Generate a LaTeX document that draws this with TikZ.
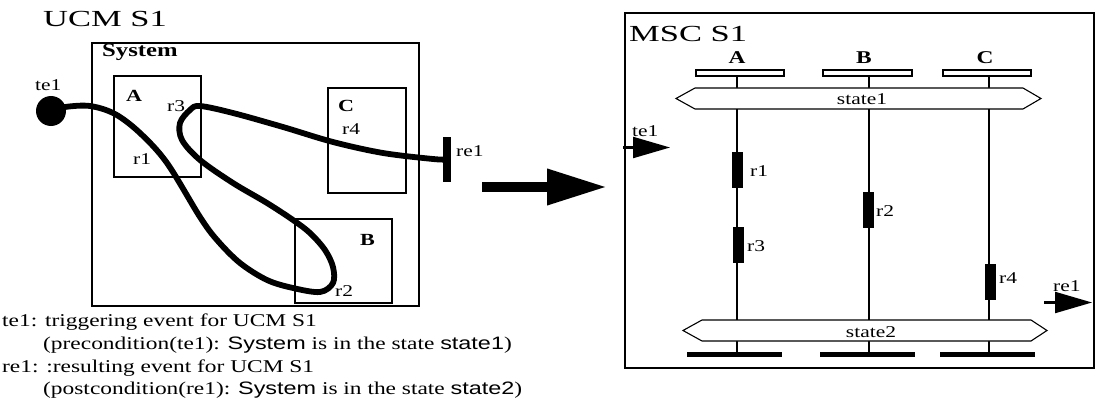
\documentclass[tikz,border=0pt]{standalone}
\usepackage{graphicx}
\usepackage{fontspec}
\setmainfont{Liberation Serif}
\newfontfamily\hv{Liberation Sans}
\usetikzlibrary{arrows.meta}
% the lettering in this drawing is set wide
\newcommand{\widetxt}[1]{\scalebox{1.3}[1]{#1}}
\newcommand{\headtxt}[1]{\scalebox{1.5}[1]{\fontsize{23}{25}\selectfont #1}}

\begin{document}
\begin{tikzpicture}[x=1pt,y=-1pt,
  frame/.style={draw, line width=2.2, inner sep=0},
  headbox/.style={draw, line width=1.6, inner sep=0, minimum height=6},
  action/.style={fill=black, inner sep=0, minimum width=10.5, minimum height=36},
  endbar/.style={fill=black, inner sep=0, minimum height=5.5, minimum width=95},
  lifeline/.style={line width=1.4},
  hex/.style={draw, line width=1.1, fill=white},
  ucmpath/.style={line width=5.8, line cap=round, line join=round},
  diagtitle/.style={inner sep=0, anchor=base west},
  lbl/.style={inner sep=0, anchor=base west, font=\fontsize{16.5}{18}\selectfont},
  blbl/.style={inner sep=0, anchor=base west, font=\fontsize{17}{18}\selectfont\bfseries},
  hdlbl/.style={inner sep=0, anchor=base, font=\fontsize{18}{20}\selectfont\bfseries},
  txt/.style={inner sep=0, anchor=base west, font=\fontsize{18}{20}\selectfont},
  statelbl/.style={inner sep=0, anchor=base, font=\fontsize{16.5}{18}\selectfont},
  msgarrow/.style={line width=2.2, -{Triangle[length=37, width=21]}},
]
\useasboundingbox (0,0) rectangle (1096,412);

% ---------------- UCM S1 ----------------
\node[diagtitle] (ucmtitle) at (43,26.5) {\headtxt{UCM S1}};

\node[frame, minimum width=327, minimum height=263] (system) at (255.5,174.5) {};
\node[inner sep=0, anchor=base west, font=\fontsize{19}{20}\selectfont\bfseries] (systemlbl) at (102,57) {\widetxt{System}};

\node[frame, minimum width=87, minimum height=101] (boxA) at (157.5,126.5) {};
\node[frame, minimum width=78, minimum height=105] (boxC) at (367,140.5) {};
\node[frame, minimum width=97, minimum height=84] (boxB) at (343.5,261) {};

\node[blbl] (lblA) at (126,102) {\widetxt{A}};
\node[blbl] (lblC) at (338,111) {\widetxt{C}};
\node[blbl] (lblB) at (360,245) {\widetxt{B}};

% start point and end bar
\node[circle, fill=black, minimum size=30, inner sep=0] (te1dot) at (51,111) {};
\node[fill=black, inner sep=0, minimum width=8, minimum height=45] (re1bar) at (447,159.5) {};

% the scenario path
\draw[ucmpath] plot[smooth, tension=0.55] coordinates {
  (te1dot.center) (65,107) (90,106) (115,114) (140,133) (167,163) (200,217) (217,240)
  (240,263) (267,280) (293,288) (320,292) (333,283) (333,267) (325,250)
  (310,233) (293,220) (267,203) (233,183) (200,160) (182,140) (180,123)
  (190,110) (200,106) (233,113) (283,127) (333,142) (383,153) (433,159)
  (re1bar.center)};

\node[lbl] (ucmte1) at (35,91) {\widetxt{te1}};
\node[lbl] (ucmre1) at (456,157) {\widetxt{re1}};
\node[lbl] (ucmr3) at (167,111) {\widetxt{r3}};
\node[lbl] (ucmr1) at (133,164) {\widetxt{r1}};
\node[lbl] (ucmr4) at (342,134) {\widetxt{r4}};
\node[lbl] (ucmr2) at (335,296) {\widetxt{r2}};

% legend
\node[txt] (leg1) at (2,326) {\widetxt{te1: triggering event for UCM S1}};
\node[txt] (leg2) at (43,349) {\widetxt{(precondition(te1): {\hv System} is in the state {\hv state1})}};
\node[txt] (leg3) at (2,372) {\widetxt{re1: :resulting event for UCM S1}};
\node[txt] (leg4) at (43,394) {\widetxt{(postcondition(re1): {\hv System} is in the state {\hv state2})}};

% ---------------- transformation arrow ----------------
\coordinate (bigfrom) at (482,187);
\coordinate (bigto) at (607,187);
\draw[line width=10, -{Triangle[length=60, width=34]}] (bigfrom) -- (bigto);

% ---------------- MSC S1 ----------------
\node[frame, minimum width=469, minimum height=355] (msc) at (859.5,190.5) {};
\node[diagtitle] (msctitle) at (629,41.7) {\headtxt{MSC S1}};

% instance heads
\node[headbox, minimum width=88] (headA) at (740,73) {};
\node[headbox, minimum width=89] (headB) at (867.5,73) {};
\node[headbox, minimum width=88] (headC) at (987,73) {};
\node[hdlbl] (instA) at (737,64) {\widetxt{A}};
\node[hdlbl] (instB) at (864,64) {\widetxt{B}};
\node[hdlbl] (instC) at (985,64) {\widetxt{C}};

% instance ends
\node[endbar] (endA) at (734.5,354.5) {};
\node[endbar] (endB) at (867.5,354.5) {};
\node[endbar] (endC) at (987.5,354.5) {};

% lifelines
\draw[lifeline] (737,76) -- (737,352);
\draw[lifeline] (869,76) -- (869,352);
\draw[lifeline] (989,76) -- (989,352);

% state conditions
\draw[hex] (676,98.5) -- (695,88) -- (1023,88) -- (1041,98.5) -- (1023,109) -- (695,109) -- cycle;
\node[statelbl] (state1) at (862,105) {\widetxt{state1}};
\draw[hex] (683,330.5) -- (702,320) -- (1031,320) -- (1047,330.5) -- (1031,341) -- (702,341) -- cycle;
\node[statelbl] (state2) at (871,337) {\widetxt{state2}};

% actions
\node[action] (r1) at (737.5,170) {};
\node[action] (r2) at (868.5,210) {};
\node[action] (r3) at (738.5,245) {};
\node[action] (r4) at (990.5,281.5) {};
\node[lbl] (r1l) at (750,176) {\widetxt{r1}};
\node[lbl] (r2l) at (876,216) {\widetxt{r2}};
\node[lbl] (r3l) at (747,251) {\widetxt{r3}};
\node[lbl] (r4l) at (999,283) {\widetxt{r4}};

% in and out messages
\coordinate (te1from) at (623,147.5);
\coordinate (te1to) at (670,147.5);
\draw[msgarrow] (te1from) -- (te1to);
\node[lbl] (mscte1) at (632,136) {\widetxt{te1}};

\coordinate (re1from) at (1044,302.5);
\coordinate (re1to) at (1092,302.5);
\draw[msgarrow] (re1from) -- (re1to);
\node[lbl] (mscre1) at (1053,291) {\widetxt{re1}};
\end{tikzpicture}
\end{document}
